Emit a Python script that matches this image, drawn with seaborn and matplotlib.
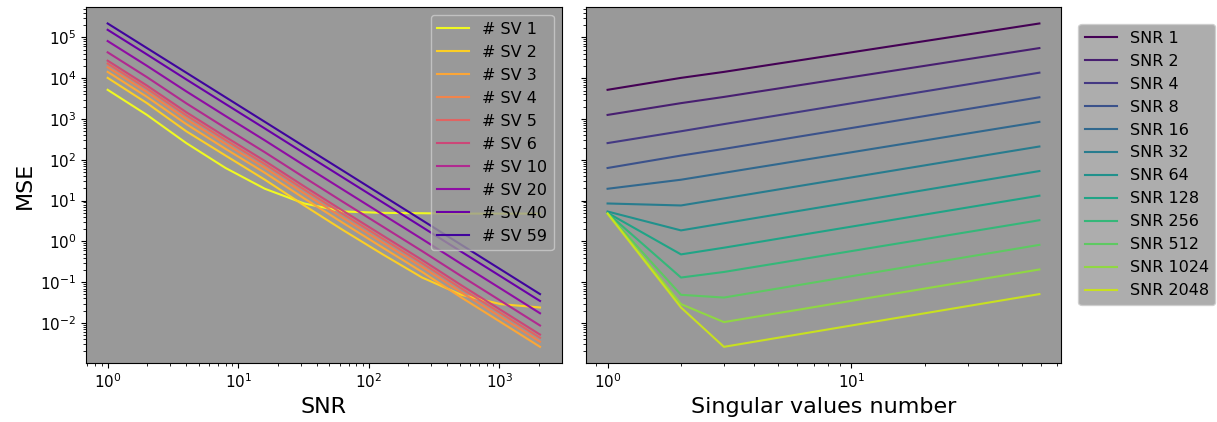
import matplotlib
import matplotlib.pyplot as plt
import numpy as np
import pandas as pd
import seaborn as sns

# signal-to-noise ratios (x axis of the left panel)
snr_values = [1, 2, 4, 8, 16, 32, 64, 128, 256, 512, 1024, 2048]
# number of singular values kept (x axis of the right panel)
sv_numbers = [1, 2, 3, 4, 5, 6, 10, 20, 40, 59]

# MSE, one list per number of singular values, ordered by SNR
mse_sv1 = [5200, 1260, 257, 63, 19.5, 8.5, 5.4, 5.0, 4.9, 4.8, 4.8, 4.8]
mse_sv2 = [10200, 2450, 501, 127, 32.5, 7.6, 1.86, 0.48, 0.13, 0.049, 0.029, 0.024]
mse_sv3 = [14300, 3480, 750, 185, 48, 11.3, 2.78, 0.70, 0.178, 0.042, 0.0105, 0.0026]
mse_sv4 = [18620, 4550, 993, 245, 63.4, 15.0, 3.70, 0.929, 0.236, 0.056, 0.0140, 0.00347]
mse_sv5 = [22860, 5585, 1233, 305, 78.5, 18.7, 4.61, 1.16, 0.293, 0.070, 0.0175, 0.00434]
mse_sv6 = [26980, 6620, 1472, 365, 93.8, 22.4, 5.52, 1.39, 0.351, 0.0839, 0.0209, 0.0052]
mse_sv10 = [43150, 10620, 2427, 601, 153, 37.0, 9.14, 2.30, 0.578, 0.140, 0.0349, 0.00867]
mse_sv20 = [81470, 20140, 4764, 1183, 299, 73.1, 18.2, 4.55, 1.14, 0.279, 0.0697, 0.0173]
mse_sv40 = [153800, 38280, 9354, 2333, 585, 145, 36.1, 9.02, 2.25, 0.557, 0.139, 0.0346]
mse_sv59 = [220000, 54800, 13680, 3410, 851, 212, 53.0, 13.2, 3.30, 0.822, 0.205, 0.051]

mse_rows = [mse_sv1, mse_sv2, mse_sv3, mse_sv4, mse_sv5,
            mse_sv6, mse_sv10, mse_sv20, mse_sv40, mse_sv59]

records = []
for sv, row in zip(sv_numbers, mse_rows):
    for snr, mse in zip(snr_values, row):
        records.append({"sv": sv, "snr": snr, "mse": mse,
                        "sv_label": f"# SV {sv}", "snr_label": f"SNR {snr}"})
df = pd.DataFrame(records)

sv_order = [f"# SV {sv}" for sv in sv_numbers]
snr_order = [f"SNR {s}" for s in snr_values]
sv_colors = [matplotlib.colors.to_hex(c) for c in plt.get_cmap("plasma")(np.linspace(1.0, 0.1, len(sv_numbers)))]
snr_colors = [matplotlib.colors.to_hex(c) for c in plt.get_cmap("viridis")(np.arange(len(snr_values)) / len(snr_values))]

plt.rcParams.update({
    "font.family": "DejaVu Sans",
    "axes.facecolor": "#999999",   # legends inherit this grey too
    "xtick.labelsize": 11,
    "ytick.labelsize": 11,
    "axes.labelsize": 16,
})

fig, (ax1, ax2) = plt.subplots(1, 2, figsize=(12.17, 4.22), dpi=100, sharey=True)
ax1.set_position([0.0707, 0.1398, 0.3908, 0.8429])
ax2.set_position([0.4815, 0.1398, 0.3903, 0.8429])

# left: MSE against SNR, one line per number of singular values
sns.lineplot(data=df, x="snr", y="mse", hue="sv_label", hue_order=sv_order,
             palette=sv_colors, ax=ax1, linewidth=1.5)
ax1.set_xscale("log")
ax1.set_yscale("log")
ax1.set_xlabel("SNR")
ax1.set_ylabel("MSE")
sns.move_legend(ax1, "upper right", title=None, fontsize=11.5, frameon=True)

# right: MSE against number of singular values, one line per SNR
sns.lineplot(data=df, x="sv", y="mse", hue="snr_label", hue_order=snr_order,
             palette=snr_colors, ax=ax2, linewidth=1.5)
ax2.set_xscale("log")
ax2.set_xlabel("Singular values number")
ax2.set_ylabel("")
sns.move_legend(ax2, "upper left", bbox_to_anchor=(1.02, 0.975), title=None,
                fontsize=11.5, frameon=True)

plt.savefig("out.png", dpi=100)
plt.close()
